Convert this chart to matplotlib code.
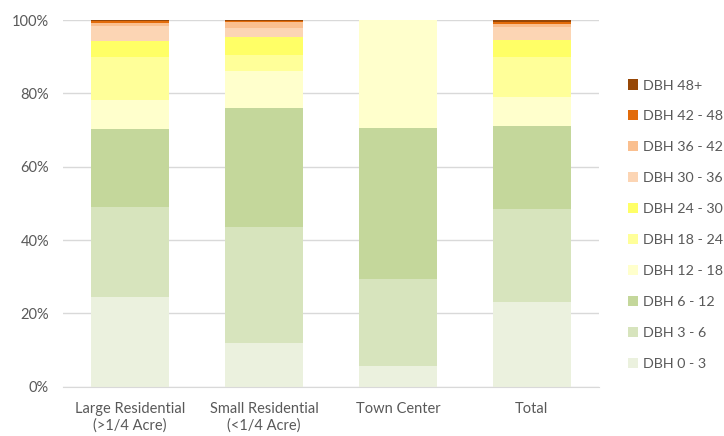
import numpy as np
import matplotlib.pyplot as plt
from matplotlib.ticker import PercentFormatter

plt.rcParams['font.family'] = ['Lato', 'DejaVu Sans']

categories = ["Large Residential\n(>1/4 Acre)", "Small Residential\n(<1/4 Acre)", "Town Center", "Total"]
classes = ["DBH 0 - 3", "DBH 3 - 6", "DBH 6 - 12", "DBH 12 - 18", "DBH 18 - 24",
           "DBH 24 - 30", "DBH 30 - 36", "DBH 36 - 42", "DBH 42 - 48", "DBH 48+"]

# percent share of each DBH class, per category
dbh_0_3 = [24.5, 11.8, 5.6, 23.2]
dbh_3_6 = [24.6, 31.8, 23.7, 25.3]
dbh_6_12 = [21.2, 32.5, 41.2, 22.5]
dbh_12_18 = [7.9, 9.9, 29.5, 7.9]
dbh_18_24 = [11.7, 4.5, 0.0, 11.0]
dbh_24_30 = [4.4, 4.9, 0.0, 4.6]
dbh_30_36 = [4.0, 2.5, 0.0, 3.6]
dbh_36_42 = [0.8, 1.5, 0.0, 0.8]
dbh_42_48 = [0.6, 0.4, 0.0, 0.7]
dbh_48p = [0.3, 0.2, 0.0, 0.4]

series = [dbh_0_3, dbh_3_6, dbh_6_12, dbh_12_18, dbh_18_24,
          dbh_24_30, dbh_30_36, dbh_36_42, dbh_42_48, dbh_48p]
colors = ["#EBF1DE", "#D7E4BD", "#C4D79B", "#FFFFCC", "#FFFF99",
          "#FFFF66", "#FCD5B4", "#FABF8F", "#E26B0A", "#974706"]

fig = plt.figure(figsize=(7.24, 4.36), dpi=100)
ax = fig.add_axes([0.087, 0.113, 0.74, 0.841])

x = np.arange(len(categories))
bottom = np.zeros(len(categories))
handles = []
for vals, col, lab in zip(series, colors, classes):
    vals = np.array(vals)
    h = ax.bar(x, vals, 0.58, bottom=bottom, color=col, label=lab, zorder=2)
    handles.append(h)
    bottom += vals

ax.set_xlim(-0.5, 3.5)
ax.set_ylim(0, 100)
ax.set_yticks(np.arange(0, 101, 20))
ax.yaxis.set_major_formatter(PercentFormatter(decimals=0))
ax.grid(axis='y', color='#D9D9D9', linewidth=1, zorder=0)
ax.set_xticks(x)
ax.set_xticklabels(categories)
for s in ['top', 'right', 'left']:
    ax.spines[s].set_visible(False)
ax.spines['bottom'].set_color('#D9D9D9')
ax.tick_params(length=0, colors='#595959', labelsize=10.5)
ax.tick_params(axis='y', pad=10)
ax.tick_params(axis='x', pad=11)

fig.legend(handles[::-1], classes[::-1], loc='center left', bbox_to_anchor=(0.867, 0.485),
           bbox_transform=fig.transFigure, borderpad=0, borderaxespad=0,
           frameon=False, fontsize=10.3, labelcolor='#595959', handlelength=0.7,
           handleheight=0.7, handletextpad=0.4, labelspacing=1.32)

fig.savefig("out.png", dpi=100)
